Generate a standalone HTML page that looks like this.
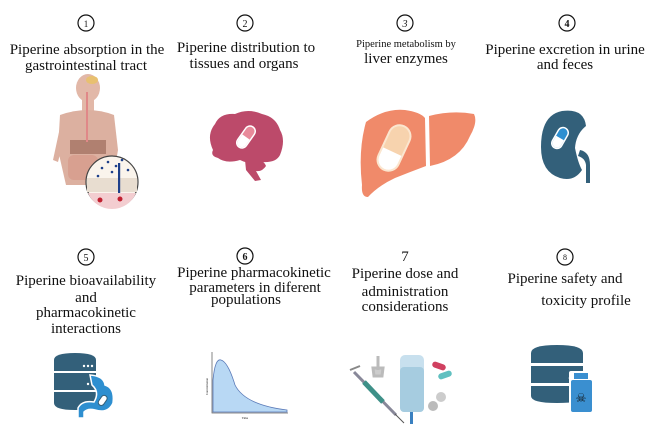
<!DOCTYPE html>
<html><head><meta charset="utf-8"><style>
html,body{margin:0;padding:0;background:#fff;}
svg{display:block;}
text{font-family:"Liberation Serif",serif;fill:#111;}
</style></head><body>
<svg width="653" height="433" viewBox="0 0 653 433" xmlns="http://www.w3.org/2000/svg">
<rect width="653" height="433" fill="#fff"/>
<g fill="none" stroke="#111" stroke-width="1.2">
<circle cx="86" cy="23" r="8"/>
<circle cx="245" cy="23" r="8"/>
<circle cx="405" cy="23" r="8"/>
<circle cx="567" cy="23" r="8"/>
<circle cx="86" cy="257" r="8"/>
<circle cx="245" cy="256" r="8"/>
<circle cx="565" cy="257" r="8"/>
</g>
<g text-anchor="middle" font-size="10">
<text x="86" y="27" font-size="9">1</text>
<text x="245" y="27">2</text>
<text x="405" y="27" font-style="italic">3</text>
<text x="567" y="27" font-weight="bold">4</text>
<text x="86" y="261">5</text>
<text x="245" y="260" font-weight="bold">6</text>
<text x="405" y="261" font-size="15">7</text>
<text x="565" y="260" font-size="8">8</text>
</g>
<g text-anchor="middle" font-size="15">
<text x="87" y="54">Piperine absorption in the</text>
<text x="86" y="70">gastrointestinal tract</text>
<text x="246" y="52">Piperine distribution to</text>
<text x="244" y="68">tissues and organs</text>
<text x="406" y="47" font-size="10.5">Piperine metabolism by</text>
<text x="406" y="63">liver enzymes</text>
<text x="565" y="54">Piperine excretion in urine</text>
<text x="565" y="69">and feces</text>
<text x="86" y="285">Piperine bioavailability</text>
<text x="86" y="302">and</text>
<text x="86" y="317">pharmacokinetic</text>
<text x="86" y="333">interactions</text>
<text x="254" y="277">Piperine pharmacokinetic</text>
<text x="255" y="292">parameters in diferent</text>
<text x="246" y="304">populations</text>
<text x="405" y="278">Piperine dose and</text>
<text x="405" y="296">administration</text>
<text x="405" y="311">considerations</text>
<text x="565" y="283">Piperine safety and</text>
<text x="586" y="305">toxicity profile</text>
</g>
<!-- body -->
<g>
<ellipse cx="88" cy="88" rx="12" ry="14" fill="#e2b8a8"/>
<rect x="82" y="98" width="12" height="14" fill="#e2b8a8"/>
<path d="M60 115 Q88 105 114 115 L118 150 L112 185 L66 185 L58 150 Z" fill="#dcb0a0"/>
<path d="M62 118 L53 160 L58 162 L66 130 Z" fill="#dcb0a0"/>
<rect x="70" y="140" width="36" height="14" fill="#b08070"/>
<rect x="68" y="155" width="30" height="25" rx="6" fill="#d8a090"/>
<ellipse cx="92" cy="80" rx="6" ry="4" fill="#e8c070"/>
<rect x="86" y="92" width="2" height="50" fill="#e08888"/>
<circle cx="112" cy="182" r="26" fill="#faf4ec" stroke="#444" stroke-width="1.2"/>
<rect x="87" y="178" width="50" height="14" fill="#e8ddd0"/>
<path d="M88 193 H136 A26 26 0 0 1 88 193Z" fill="#f3cdd0"/>
<g fill="#1d3f8a"><circle cx="102" cy="168" r="1.3"/><circle cx="108" cy="162" r="1.3"/><circle cx="116" cy="166" r="1.3"/><circle cx="122" cy="160" r="1.3"/><circle cx="128" cy="170" r="1.3"/><circle cx="112" cy="172" r="1.3"/><circle cx="98" cy="176" r="1.3"/></g>
<rect x="118" y="163" width="2.2" height="30" fill="#1d3f8a"/>
<circle cx="100" cy="200" r="2.5" fill="#c02030"/><circle cx="120" cy="199" r="2.5" fill="#c02030"/>
</g>
<!-- brain -->
<g>
<path d="M213 150 Q206 135 215 124 Q220 113 235 114 Q248 108 262 114 Q276 117 280 130 Q286 140 280 155 Q276 163 262 162 Q250 165 240 160 Q226 164 218 158 Q210 156 213 150Z" fill="#bc4a6a"/>
<path d="M245 160 Q262 156 266 166 Q262 172 256 171 L261 180 L255 181 L246 170 Z" fill="#bc4a6a"/>
<g transform="translate(246 137) rotate(35)">
<rect x="-6" y="-13" width="12" height="26" rx="6" fill="#fff"/>
<rect x="-4.5" y="-11.5" width="9" height="23" rx="4.5" fill="#e88a9a"/>
<path d="M-4.5 0 H4.5 V7 A4.5 4.5 0 0 1 -4.5 7 Z" fill="#fff"/>
</g>
</g>
<!-- liver -->
<g>
<path d="M366 122 Q385 108 405 110 Q420 112 425 118 L426 166 Q410 172 395 178 Q378 186 368 197 Q361 197 362 185 Q358 150 366 122Z" fill="#f08a6a"/>
<path d="M429 116 Q452 110 474 114 Q478 122 470 136 Q460 160 430 166 Z" fill="#f08a6a"/>
<g transform="translate(394 148) rotate(25)">
<rect x="-12" y="-25" width="24" height="50" rx="12" fill="#fbe6cf"/>
<rect x="-10" y="-23" width="20" height="46" rx="10" fill="#f7d3ae"/>
<path d="M-10 4 H10 V13 A10 10 0 0 1 -10 13 Z" fill="#fff"/>
</g>
</g>
<!-- kidney -->
<g>
<path d="M562 111 Q584 108 586 126 Q576 134 575 148 Q578 163 582 170 Q574 182 560 178 Q541 172 541 147 Q541 115 562 111Z" fill="#33607a"/>
<path d="M580 150 Q590 152 590 165 L590 183 L586 183 L586 165 Q585 158 578 156 Z" fill="#33607a"/>
<g transform="translate(560 138) rotate(30)">
<rect x="-6" y="-12" width="12" height="24" rx="6" fill="#fff"/>
<rect x="-4.5" y="-10.5" width="9" height="21" rx="4.5" fill="#2e8fd0"/>
<path d="M-4.5 0 H4.5 V6 A4.5 4.5 0 0 1 -4.5 6 Z" fill="#fff"/>
</g>
</g>
<!-- db 5 -->
<g fill="#33607a">
<path d="M54 360 Q54 353 75 353 Q96 353 96 360 V371 H54Z"/>
<rect x="54" y="373" width="42" height="17"/>
<path d="M54 392 H96 V403 Q96 410 75 410 Q54 410 54 403Z"/>
</g>
<g fill="#fff"><circle cx="84" cy="366" r="1.2"/><circle cx="88" cy="366" r="1.2"/><circle cx="92" cy="366" r="1.2"/><circle cx="88" cy="384" r="1.2"/></g>
<path d="M90 375 Q104 376 105 385 Q115 388 113 403 Q108 414 95 410 Q88 408 84 412 L84 418 L78 418 L78 408 Q82 400 94 402 Q100 392 92 385 Z" fill="#2e8fd0" stroke="#fff" stroke-width="1.5"/>
<rect x="100" y="395" width="6" height="11" rx="3" transform="rotate(35 103 400)" fill="#fff" stroke="#33607a"/>
<!-- graph -->
<path d="M213 412 L213 380 Q215 358 221 360 Q228 362 235 385 Q245 405 287 410 L287 412Z" fill="#b8d8f4" stroke="#5a7ab8" stroke-width="0.8"/>
<path d="M212 352 V413 H288" fill="none" stroke="#666" stroke-width="0.8"/>
<text x="245" y="419" font-size="3" text-anchor="middle" fill="#888">Time</text>
<text x="0" y="0" font-size="3" fill="#888" transform="translate(208 395) rotate(-90)">Concentration</text>
<!-- medical -->
<g>
<path d="M354 372 L396 415" stroke="#889" stroke-width="3"/>
<path d="M364 382 L383 402" stroke="#3e9088" stroke-width="5"/>
<path d="M395 414 L404 423" stroke="#555" stroke-width="1"/>
<path d="M350 370 L360 366" stroke="#888" stroke-width="2"/>
<path d="M378 356 L378 370 M373 368 H383 L382 376 H374Z" stroke="#bbb" stroke-width="3" fill="#ccc"/>
<rect x="400" y="355" width="24" height="57" rx="5" fill="#c8e0ee"/>
<rect x="400" y="367" width="24" height="45" rx="4" fill="#a6cce0"/>
<rect x="410" y="412" width="3" height="12" fill="#3a80c0"/>
<rect x="432" y="363" width="14" height="6" rx="3" transform="rotate(20 439 366)" fill="#d04060"/>
<rect x="438" y="372" width="14" height="6" rx="3" transform="rotate(-20 445 375)" fill="#60c0c0"/>
<circle cx="441" cy="397" r="5" fill="#ccc"/>
<circle cx="433" cy="406" r="5" fill="#bbb"/>
</g>
<!-- db 8 -->
<g fill="#33607a">
<path d="M531 353 Q531 345 557 345 Q583 345 583 353 V363 H531Z"/>
<rect x="531" y="366" width="52" height="17"/>
<path d="M531 386 H583 V396 Q583 403 557 403 Q531 403 531 396Z"/>
</g>
<g fill="#fff"><circle cx="570" cy="378" r="1.3"/><circle cx="575" cy="378" r="1.3"/><circle cx="580" cy="378" r="1.3"/></g>
<rect x="569" y="371" width="24" height="43" rx="2" fill="#fff"/>
<rect x="574" y="373" width="14" height="6" fill="#3a8fd0"/>
<rect x="571" y="380" width="21" height="32" rx="2" fill="#3a8fd0"/>
<text x="581" y="402" font-size="12" text-anchor="middle" fill="#fff">☠</text>
</svg>
</body></html>
